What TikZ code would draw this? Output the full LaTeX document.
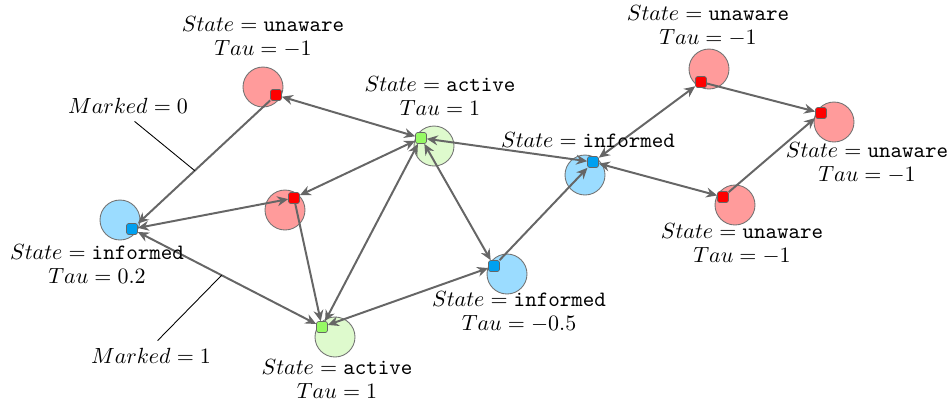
\documentclass[tikz,border=0pt]{standalone}
\usetikzlibrary{arrows.meta}
\definecolor{unawareC}{RGB}{255,155,155}
\definecolor{informedC}{RGB}{155,220,255}
\definecolor{activeC}{RGB}{222,250,205}
\definecolor{unawareP}{RGB}{255,0,0}
\definecolor{informedP}{RGB}{0,160,240}
\definecolor{activeP}{RGB}{150,250,100}
\begin{document}
\begin{tikzpicture}[x=0.016cm,y=-0.016cm,>={Stealth[length=5pt,width=4.5pt]},
        agent/.style={circle,draw=black!55,line width=0.4pt,minimum size=0.64cm,inner sep=0pt},
        port/.style={rectangle,rounded corners=1pt,draw=black!60,line width=0.3pt,minimum size=5pt,inner sep=0pt},
        edge/.style={draw=black!60,line width=0.9pt},
        info/.style={align=center,font=\fontsize{10}{10.8}\selectfont}]
        \useasboundingbox (0,0) rectangle (950,403);
        % agents
        \node[agent,fill=unawareC] (cu1) at (263,87) {};
        \node[agent,fill=informedC] (ci1) at (120,220) {};
        \node[agent,fill=unawareC] (cu2) at (285,210) {};
        \node[agent,fill=activeC] (ca1) at (434,146) {};
        \node[agent,fill=informedC] (ci2) at (507,274) {};
        \node[agent,fill=activeC] (ca2) at (335,337) {};
        \node[agent,fill=informedC] (ci3) at (585,175) {};
        \node[agent,fill=unawareC] (cu3) at (709,69) {};
        \node[agent,fill=unawareC] (cu4) at (834,122) {};
        \node[agent,fill=unawareC] (cu5) at (735,205) {};
        % ports
        \node[port,fill=unawareP] (su1) at (276,95) {};
        \node[port,fill=informedP] (si1) at (132,229) {};
        \node[port,fill=unawareP] (su2) at (294,198) {};
        \node[port,fill=activeP] (sa1) at (421,138) {};
        \node[port,fill=informedP] (si2) at (494,266) {};
        \node[port,fill=activeP] (sa2) at (322,327) {};
        \node[port,fill=informedP] (si3) at (593,162) {};
        \node[port,fill=unawareP] (su3) at (701,82) {};
        \node[port,fill=unawareP] (su4) at (821,113) {};
        \node[port,fill=unawareP] (su5) at (723,197) {};
        % links
        \draw[edge,->] (su1) -- coordinate[pos=0.57] (m0) (si1);
        \draw[edge,<->] (si1) -- (su2);
        \draw[edge,<->] (si1) -- coordinate[pos=0.47] (m1) (sa2);
        \draw[edge,<->] (su1) -- (sa1);
        \draw[edge,<->] (sa1) -- (su2);
        \draw[edge,<->] (sa2) -- (sa1);
        \draw[edge,->] (su2) -- (sa2);
        \draw[edge,<->] (sa1) -- (si2);
        \draw[edge,<->] (si3) -- (sa1);
        \draw[edge,->] (si2) -- (si3);
        \draw[edge,<->] (sa2) -- (si2);
        \draw[edge,<->] (si3) -- (su3);
        \draw[edge,->] (su3) -- (su4);
        \draw[edge,<->] (si3) -- (su5);
        \draw[edge,->] (su5) -- (su4);
        % texts
        \node[info] (tu1) at (263,37) {$State = \texttt{unaware}$\\$Tau = -1$};
        \node[info] (ti1) at (97,264) {$State = \texttt{informed}$\\$Tau = 0.2$};
        \node[info] (ta1) at (440,96) {$State = \texttt{active}$\\$Tau = 1$};
        \node[info] (ti2) at (519,312) {$State = \texttt{informed}$\\$Tau = -0.5$};
        \node[info] (ta2) at (337,379) {$State = \texttt{active}$\\$Tau = 1$};
        \node[info] (ti3) at (588,140) {$State = \texttt{informed}$};
        \node[info] (tu3) at (708,26) {$State = \texttt{unaware}$\\$Tau = -1$};
        \node[info] (tu4) at (867,163) {$State = \texttt{unaware}$\\$Tau = -1$};
        \node[info] (tu5) at (742,244) {$State = \texttt{unaware}$\\$Tau = -1$};
        \node[info] (lm0) at (128,106) {$Marked = 0$};
        \node[info] (lm1) at (151,356) {$Marked = 1$};
        \draw ([xshift=3pt]lm0.south) -- (m0);
        \draw ([xshift=3pt]lm1.north) -- (m1);
    \end{tikzpicture}
\end{document}
